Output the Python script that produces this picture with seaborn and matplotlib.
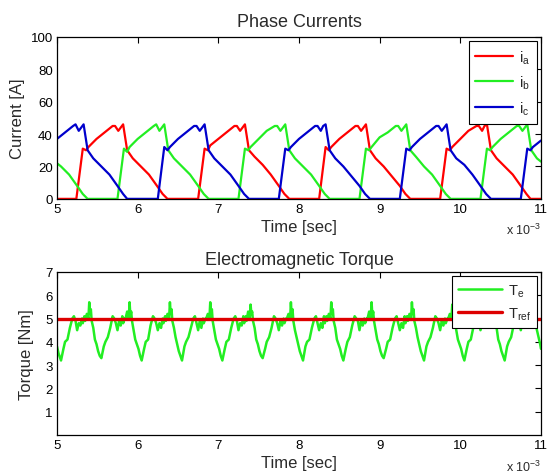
import numpy as np
import pandas as pd
import matplotlib
matplotlib.use("Agg")
import matplotlib.pyplot as plt
import seaborn as sns

# time in ms (axis shows x 10^-3 sec)
ia_t = [5.00, 5.24, 5.32, 5.36, 5.39, 5.49, 5.59, 5.69, 5.72, 5.76, 5.79, 5.82, 5.87, 5.94, 6.04, 6.14, 6.24, 6.31, 6.37,
        6.75, 6.83, 6.87, 6.90, 7.00, 7.10, 7.20, 7.23, 7.27, 7.30, 7.33, 7.38, 7.45, 7.55, 7.65, 7.75, 7.82, 7.88,
        8.25, 8.33, 8.37, 8.40, 8.50, 8.60, 8.70, 8.73, 8.77, 8.80, 8.83, 8.88, 8.95, 9.05, 9.15, 9.25, 9.32, 9.38,
        9.75, 9.83, 9.87, 9.90, 10.00, 10.10, 10.20, 10.23, 10.27, 10.30, 10.33, 10.38, 10.45, 10.55, 10.65, 10.75, 10.82, 10.87, 11.00]
ia = [0, 0, 31, 30, 32, 37, 41, 45, 45, 42, 44, 46, 30, 25, 20, 15, 8, 3, 0,
      0, 31, 30, 33, 37, 41, 45, 45, 42, 44, 46, 30, 26, 21, 15, 8, 3, 0,
      0, 32, 30, 32, 37, 41, 45, 45, 42, 44, 46, 30, 25, 20, 14, 8, 3, 0,
      0, 31, 30, 32, 37, 42, 45, 45, 42, 45, 46, 30, 25, 20, 15, 8, 3, 0, 0]

ib_t = [5.00, 5.05, 5.15, 5.25, 5.32, 5.38,
        5.75, 5.83, 5.87, 5.90, 6.00, 6.10, 6.20, 6.23, 6.27, 6.30, 6.33, 6.38, 6.45, 6.55, 6.65, 6.75, 6.82, 6.88,
        7.25, 7.33, 7.37, 7.40, 7.50, 7.60, 7.70, 7.73, 7.77, 7.80, 7.83, 7.88, 7.95, 8.05, 8.15, 8.25, 8.32, 8.38,
        8.75, 8.83, 8.87, 8.90, 9.00, 9.10, 9.20, 9.23, 9.27, 9.30, 9.33, 9.38, 9.45, 9.55, 9.65, 9.75, 9.82, 9.88,
        10.25, 10.33, 10.37, 10.40, 10.50, 10.60, 10.70, 10.73, 10.77, 10.80, 10.83, 10.88, 10.95, 11.00]
ib = [22, 20, 15, 8, 3, 0,
      0, 31, 29, 32, 37, 41, 45, 46, 42, 44, 46, 30, 25, 20, 15, 8, 3, 0,
      0, 31, 30, 32, 37, 42, 45, 45, 42, 44, 46, 30, 25, 20, 15, 8, 3, 0,
      0, 31, 30, 32, 38, 41, 45, 45, 42, 44, 46, 30, 26, 20, 15, 8, 3, 0,
      0, 31, 30, 32, 37, 41, 45, 45, 42, 44, 46, 30, 25, 23]

ic_t = [5.00, 5.10, 5.20, 5.23, 5.27, 5.30, 5.33, 5.38, 5.45, 5.55, 5.65, 5.75, 5.82, 5.87,
        6.25, 6.33, 6.37, 6.40, 6.50, 6.60, 6.70, 6.73, 6.77, 6.80, 6.83, 6.88, 6.95, 7.05, 7.15, 7.25, 7.32, 7.38,
        7.75, 7.83, 7.87, 7.90, 8.00, 8.10, 8.20, 8.23, 8.27, 8.30, 8.33, 8.38, 8.45, 8.55, 8.65, 8.75, 8.82, 8.88,
        9.25, 9.33, 9.37, 9.40, 9.50, 9.60, 9.70, 9.73, 9.77, 9.80, 9.83, 9.88, 9.95, 10.05, 10.15, 10.25, 10.32, 10.38,
        10.75, 10.83, 10.87, 10.90, 11.00]
ic = [37, 41, 45, 46, 42, 44, 46, 30, 25, 20, 15, 8, 3, 0,
      0, 32, 30, 32, 37, 41, 45, 45, 42, 44, 46, 30, 25, 20, 15, 8, 3, 0,
      0, 31, 30, 32, 37, 41, 45, 45, 42, 45, 46, 30, 25, 20, 14, 8, 3, 0,
      0, 31, 30, 32, 37, 41, 45, 45, 42, 44, 46, 30, 25, 21, 15, 8, 3, 0,
      0, 31, 30, 32, 36]

te_t = [5.00, 5.02,
        5.05, 5.08, 5.10, 5.13, 5.16, 5.19, 5.21, 5.23, 5.25, 5.27, 5.29, 5.31, 5.32, 5.34, 5.35, 5.37, 5.39, 5.40, 5.41, 5.42, 5.43, 5.45, 5.47, 5.49, 5.51, 5.53,
        5.55, 5.58, 5.60, 5.63, 5.66, 5.69, 5.71, 5.73, 5.75, 5.77, 5.79, 5.81, 5.82, 5.84, 5.85, 5.87, 5.89, 5.90, 5.91, 5.92, 5.93, 5.95, 5.97, 5.99, 6.01, 6.03,
        6.05, 6.08, 6.10, 6.13, 6.16, 6.19, 6.21, 6.23, 6.25, 6.27, 6.29, 6.31, 6.32, 6.34, 6.35, 6.37, 6.39, 6.40, 6.41, 6.42, 6.43, 6.45, 6.47, 6.49, 6.51, 6.53,
        6.55, 6.58, 6.60, 6.63, 6.66, 6.69, 6.71, 6.73, 6.75, 6.77, 6.79, 6.81, 6.82, 6.84, 6.85, 6.87, 6.89, 6.90, 6.91, 6.92, 6.93, 6.95, 6.97, 6.99, 7.01, 7.03,
        7.05, 7.08, 7.10, 7.13, 7.16, 7.19, 7.21, 7.23, 7.25, 7.27, 7.29, 7.31, 7.32, 7.34, 7.35, 7.37, 7.39, 7.40, 7.41, 7.42, 7.43, 7.45, 7.47, 7.49, 7.51, 7.53,
        7.55, 7.58, 7.60, 7.63, 7.66, 7.69, 7.71, 7.73, 7.75, 7.77, 7.79, 7.81, 7.82, 7.84, 7.85, 7.87, 7.89, 7.90, 7.91, 7.92, 7.93, 7.95, 7.97, 7.99, 8.01, 8.03,
        8.05, 8.08, 8.10, 8.13, 8.16, 8.19, 8.21, 8.23, 8.25, 8.27, 8.29, 8.31, 8.32, 8.34, 8.35, 8.37, 8.39, 8.40, 8.41, 8.42, 8.43, 8.45, 8.47, 8.49, 8.51, 8.53,
        8.55, 8.58, 8.60, 8.63, 8.66, 8.69, 8.71, 8.73, 8.75, 8.77, 8.79, 8.81, 8.82, 8.84, 8.85, 8.87, 8.89, 8.90, 8.91, 8.92, 8.93, 8.95, 8.97, 8.99, 9.01, 9.03,
        9.05, 9.08, 9.10, 9.13, 9.16, 9.19, 9.21, 9.23, 9.25, 9.27, 9.29, 9.31, 9.32, 9.34, 9.35, 9.37, 9.39, 9.40, 9.41, 9.42, 9.43, 9.45, 9.47, 9.49, 9.51, 9.53,
        9.55, 9.58, 9.60, 9.63, 9.66, 9.69, 9.71, 9.73, 9.75, 9.77, 9.79, 9.81, 9.82, 9.84, 9.85, 9.87, 9.89, 9.90, 9.91, 9.92, 9.93, 9.95, 9.97, 9.99, 10.01, 10.03,
        10.05, 10.08, 10.10, 10.13, 10.16, 10.19, 10.21, 10.23, 10.25, 10.27, 10.29, 10.31, 10.32, 10.34, 10.35, 10.37, 10.39, 10.40, 10.41, 10.42, 10.43, 10.45, 10.47, 10.49, 10.51, 10.53,
        10.55, 10.58, 10.60, 10.63, 10.66, 10.69, 10.71, 10.73, 10.75, 10.77, 10.79, 10.81, 10.82, 10.84, 10.85, 10.87, 10.89, 10.90, 10.91, 10.92, 10.93, 10.95, 10.97, 10.99, 11.00]
te = [3.8, 3.5,
      3.2, 3.7, 4.0, 4.1, 4.6, 5.0, 5.1, 4.9, 4.5, 4.8, 4.7, 5.0, 4.8, 5.1, 4.9, 5.2, 5.0, 5.7, 5.2, 5.4, 4.9, 4.6, 4.1, 3.9, 3.6, 3.4,
      3.3, 3.8, 4.0, 4.2, 4.6, 5.1, 5.0, 4.8, 4.5, 4.9, 4.7, 5.1, 4.8, 5.0, 5.0, 5.3, 5.0, 5.7, 5.1, 5.3, 4.9, 4.5, 4.1, 3.9, 3.7, 3.4,
      3.2, 3.7, 4.0, 4.1, 4.7, 5.1, 5.0, 4.8, 4.5, 4.8, 4.6, 5.0, 4.8, 5.1, 4.9, 5.2, 5.0, 5.7, 5.2, 5.4, 4.9, 4.6, 4.2, 3.9, 3.6, 3.4,
      3.2, 3.8, 4.0, 4.2, 4.6, 5.0, 5.1, 4.8, 4.5, 4.9, 4.6, 5.0, 4.8, 5.0, 5.0, 5.2, 5.0, 5.7, 5.1, 5.4, 4.9, 4.5, 4.1, 3.9, 3.7, 3.4,
      3.2, 3.7, 4.0, 4.1, 4.6, 5.0, 5.1, 4.9, 4.5, 4.8, 4.7, 5.1, 4.8, 5.1, 4.9, 5.3, 5.0, 5.6, 5.2, 5.3, 4.9, 4.6, 4.1, 3.9, 3.6, 3.4,
      3.3, 3.7, 4.0, 4.2, 4.6, 5.1, 5.0, 4.8, 4.5, 4.9, 4.7, 5.0, 4.8, 5.0, 5.0, 5.2, 5.0, 5.7, 5.1, 5.4, 4.9, 4.5, 4.2, 3.9, 3.6, 3.4,
      3.2, 3.8, 4.0, 4.1, 4.6, 5.0, 5.1, 4.8, 4.5, 4.8, 4.6, 5.1, 4.8, 5.1, 4.9, 5.2, 5.0, 5.7, 5.2, 5.4, 4.9, 4.6, 4.1, 3.9, 3.7, 3.4,
      3.2, 3.7, 4.0, 4.2, 4.7, 5.1, 5.0, 4.9, 4.5, 4.9, 4.7, 5.0, 4.8, 5.0, 5.0, 5.3, 5.0, 5.7, 5.1, 5.3, 4.9, 4.5, 4.1, 3.9, 3.6, 3.4,
      3.3, 3.7, 4.0, 4.1, 4.6, 5.0, 5.1, 4.8, 4.5, 4.8, 4.6, 5.1, 4.8, 5.1, 4.9, 5.2, 5.0, 5.7, 5.2, 5.4, 4.9, 4.6, 4.2, 3.9, 3.6, 3.4,
      3.2, 3.8, 4.0, 4.2, 4.6, 5.1, 5.0, 4.8, 4.5, 4.9, 4.7, 5.0, 4.8, 5.0, 5.0, 5.2, 5.0, 5.6, 5.1, 5.4, 4.9, 4.5, 4.1, 3.9, 3.7, 3.4,
      3.2, 3.7, 4.0, 4.1, 4.6, 5.0, 5.1, 4.9, 4.5, 4.8, 4.7, 5.1, 4.8, 5.1, 4.9, 5.3, 5.0, 5.7, 5.2, 5.3, 4.9, 4.6, 4.1, 3.9, 3.6, 3.4,
      3.2, 3.8, 4.0, 4.2, 4.7, 5.1, 5.0, 4.8, 4.5, 4.9, 4.6, 5.0, 4.8, 5.0, 5.0, 5.2, 5.0, 5.7, 5.1, 5.4, 4.9, 4.5, 4.2, 3.9, 3.7]

tref_t = [5.0, 11.0]
tref = [5.0, 5.0]

sns.set_style("white")
plt.rcParams["font.family"] = ["Liberation Sans", "DejaVu Sans"]
plt.rcParams["mathtext.fontset"] = "custom"
plt.rcParams["mathtext.rm"] = "Liberation Sans"

txt = "#2a2a2a"
red, green, blue = "#ff0000", "#22ee22", "#0000cc"

fig = plt.figure(figsize=(5.5, 4.77), dpi=100)
ax1 = fig.add_axes([0.1036, 0.581, 0.88, 0.3396])
ax2 = fig.add_axes([0.1036, 0.086, 0.88, 0.3417])

sns.lineplot(x=ia_t, y=ia, ax=ax1, color=red, lw=1.6, label="i$_\\mathregular{a}$", estimator=None, sort=False)
sns.lineplot(x=ib_t, y=ib, ax=ax1, color=green, lw=1.6, label="i$_\\mathregular{b}$", estimator=None, sort=False)
sns.lineplot(x=ic_t, y=ic, ax=ax1, color=blue, lw=1.6, label="i$_\\mathregular{c}$", estimator=None, sort=False)

sns.lineplot(x=te_t, y=te, ax=ax2, color=green, lw=1.8, label="T$_\\mathregular{e}$", estimator=None, sort=False)
sns.lineplot(x=tref_t, y=tref, ax=ax2, color="#dd0000", lw=2.4, label="T$_\\mathregular{ref}$", estimator=None, sort=False)

ax1.set_xlim(5, 11)
ax1.set_ylim(0, 100)
ax1.set_yticks([0, 20, 40, 60, 80, 100])
ax2.set_xlim(5, 11)
ax2.set_ylim(0, 7)
ax2.set_yticks([1, 2, 3, 4, 5, 6, 7])

for ax in (ax1, ax2):
    ax.set_xticks([5, 6, 7, 8, 9, 10, 11])
    ax.tick_params(direction="in", length=4, width=0.8, top=True, right=True,
                   labelsize=9.5, colors="black", pad=3)
    for s in ax.spines.values():
        s.set_color("black")
        s.set_linewidth(0.9)
    ax.set_xlabel("Time [sec]", fontsize=12, color=txt, labelpad=3)
    ax.text(1.0, -0.19, "x 10$^{-3}$", transform=ax.transAxes, ha="right", va="center",
            fontsize=9, color=txt)

ax1.set_title("Phase Currents", fontsize=13, color=txt, pad=8)
ax1.set_ylabel("Current [A]", fontsize=12, color=txt, labelpad=4)
ax2.set_title("Electromagnetic Torque", fontsize=13, color=txt, pad=6)
ax2.set_ylabel("Torque [Nm]", fontsize=12, color=txt, labelpad=8)

leg1 = ax1.legend(loc="upper right", fontsize=10.5, handlelength=2.6, labelspacing=0.55,
                  borderaxespad=0.3, fancybox=False, framealpha=1, edgecolor="black",
                  handletextpad=0.4, borderpad=0.45)
leg1.get_frame().set_linewidth(0.8)
leg2 = ax2.legend(loc="upper right", fontsize=10.5, handlelength=3.0, labelspacing=0.45,
                  borderaxespad=0.3, fancybox=False, framealpha=1, edgecolor="black",
                  handletextpad=0.4, borderpad=0.4)
leg2.get_frame().set_linewidth(0.8)

fig.savefig("out.png", dpi=100)
